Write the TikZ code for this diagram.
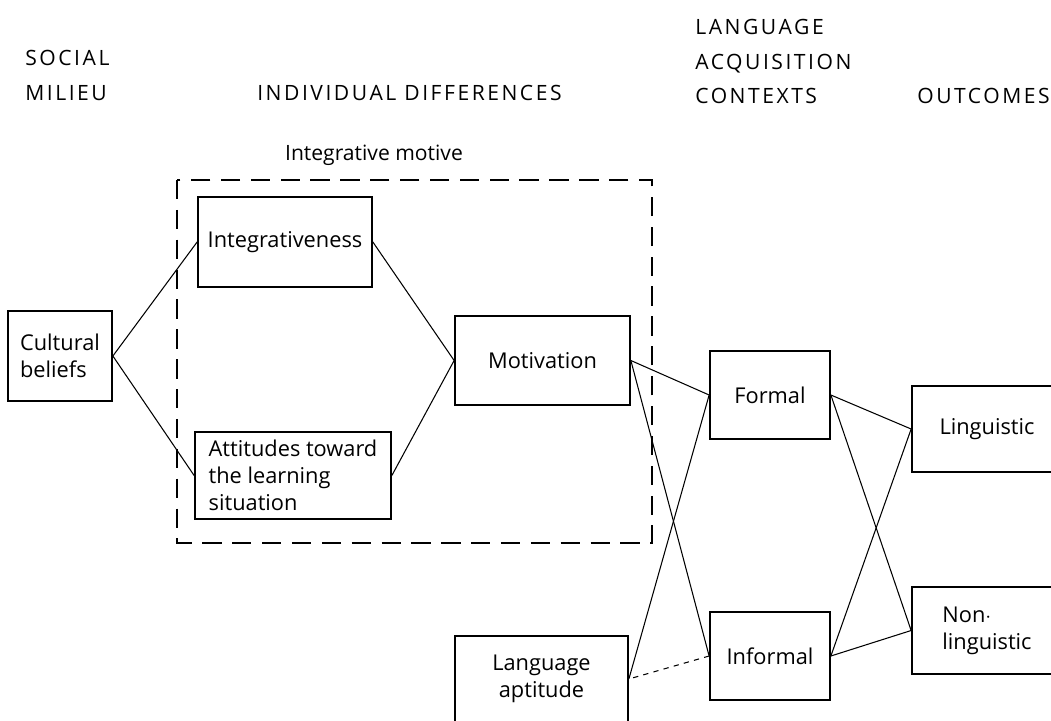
\documentclass[tikz,border=0pt]{standalone}
\usepackage{fontspec}
\setmainfont{Open Sans}
\usetikzlibrary{positioning}

\begin{document}
\begin{tikzpicture}[
        x=0.02cm, y=-0.02cm,
        box/.style={draw, rectangle, line width=1pt, inner sep=2pt, align=center, font=\fontsize{12.4}{15.4}\selectfont},
        head/.style={inner sep=0pt, align=left, font=\fontsize{12}{19.6}\selectfont\addfontfeature{LetterSpace=12}},
        link/.style={line width=0.6pt}
    ]
        \clip (0,0) rectangle (1051,720);
        \fill[white] (0,0) rectangle (1051,720);

        % column headings
        \node[head, anchor=west] (head_social) at (25, 75.5) {SOCIAL\\MILIEU};
        \node[head, anchor=west] (head_indiv) at (257, 93) {INDIVIDUAL DIFFERENCES};
        \node[head, anchor=west] (head_context) at (695, 61.5) {LANGUAGE\\ACQUISITION\\CONTEXTS};
        \node[head, anchor=west] (head_out) at (917, 96) {OUTCOMES};

        % integrative motive frame
        \draw[line width=0.8pt, dash pattern=on 11pt off 6pt] (177, 180) rectangle (652, 543);
        \node[inner sep=0pt, font=\fontsize{12}{15}\selectfont] (motive_label) at (374, 155) {Integrative motive};

        \node[box, minimum width=2.08cm, minimum height=1.8cm, align=left] (cult) at (60, 356) {Cultural\\beliefs};
        \node[box, minimum width=3.48cm, minimum height=1.8cm] (integ) at (285, 242) {Integrativeness};
        \node[box, minimum width=3.92cm, minimum height=1.74cm, align=left] (attit) at (293, 475.5) {Attitudes toward\\the learning\\situation};
        \node[box, minimum width=3.5cm, minimum height=1.78cm] (motiv) at (542.5, 360.5) {Motivation};
        \node[box, minimum width=3.46cm, minimum height=1.72cm] (aptit) at (541.5, 679) {Language\\aptitude};

        \node[box, minimum width=2.4cm, minimum height=1.76cm] (formal) at (770, 395) {Formal};
        \node[box, minimum width=2.4cm, minimum height=1.76cm] (informal) at (770, 656) {Informal};

        \node[box, minimum width=3cm, minimum height=1.72cm] (ling) at (987, 429) {Linguistic};
        \node[box, minimum width=3cm, minimum height=1.74cm, align=left] (nonling) at (987, 630.5) {Non$\cdot$\\linguistic};

        \draw[link] (cult.east) -- (integ.west);
        \draw[link] (cult.east) -- (attit.west);
        \draw[link] (integ.east) -- (motiv.west);
        \draw[link] (attit.east) -- (motiv.west);

        \draw[link] (motiv.east) -- (formal.west);
        \draw[link] (motiv.east) -- (informal.west);
        \draw[link] (aptit.east) -- (formal.west);
        \draw[link, dashed] (informal.west) -- (aptit.east);

        \draw[link] (formal.east) -- (ling.west);
        \draw[link] (formal.east) -- (nonling.west);
        \draw[link] (informal.east) -- (ling.west);
        \draw[link] (informal.east) -- (nonling.west);

    \end{tikzpicture}
\end{document}
